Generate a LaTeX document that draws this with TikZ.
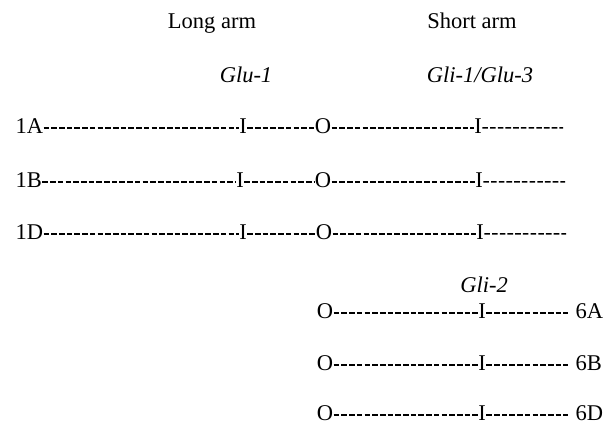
\documentclass[tikz,border=0pt]{standalone}
\usepackage{fontspec}
\setmainfont{Liberation Serif}
\begin{document}
\fontsize{22.5}{27}\selectfont
\begin{tikzpicture}[x=1pt,y=-1pt,
  txt/.style={inner sep=0pt,outer sep=0.6pt,font=\fontsize{22.5}{27}\selectfont},
  cmark/.style={txt,anchor=base},
  lbl/.style={txt,anchor=base west},
  gene/.style={txt,anchor=base,font=\fontsize{22.5}{27}\selectfont\itshape},
  hy/.style={line width=1.4pt,dash pattern=on 5.6pt off 2.1pt}]
\useasboundingbox (0,0) rectangle (605,424);
% headings
\node[cmark] (long) at (212,28) {Long arm};
\node[cmark] (short) at (472,28) {Short arm};
\node[gene] (glu1) at (246,82) {Glu-1};
\node[gene] (gli1) at (480,82) {Gli-1/Glu-3};
% group 1 rows
\foreach \n/\y/\ia/\o/\ib/\e in {1A/133/243/323/478/563, 1B/187/240/323/479/565, 1D/239/243/324/480/566}{
  \node[lbl] (l\n) at (15,\y) {\n};
  \node[cmark] (ia\n) at (\ia,\y) {I};
  \node[cmark] (o\n) at (\o,\y) {O};
  \node[cmark] (ib\n) at (\ib,\y) {I};
  \coordinate (e\n) at (\e,\y-5.2);
  \draw[hy] (l\n.mid east) -- (ia\n.mid west);
  \draw[hy] (ia\n.mid east) -- (o\n.mid west);
  \draw[hy] (o\n.mid east) -- (ib\n.mid west);
  \draw[hy] (ib\n.mid east) -- (e\n);
}
% group 6 rows
\node[gene] (gli2) at (484,292) {Gli-2};
\foreach \n/\y in {6A/318, 6B/370, 6D/420}{
  \node[cmark] (o\n) at (325,\y) {O};
  \node[cmark] (i\n) at (482,\y) {I};
  \node[lbl] (l\n) at (575,\y) {\n};
  \draw[hy] (o\n.mid east) -- (i\n.mid west);
  \draw[hy,shorten >=7pt] (i\n.mid east) -- (l\n.mid west);
}
\end{tikzpicture}
\end{document}
